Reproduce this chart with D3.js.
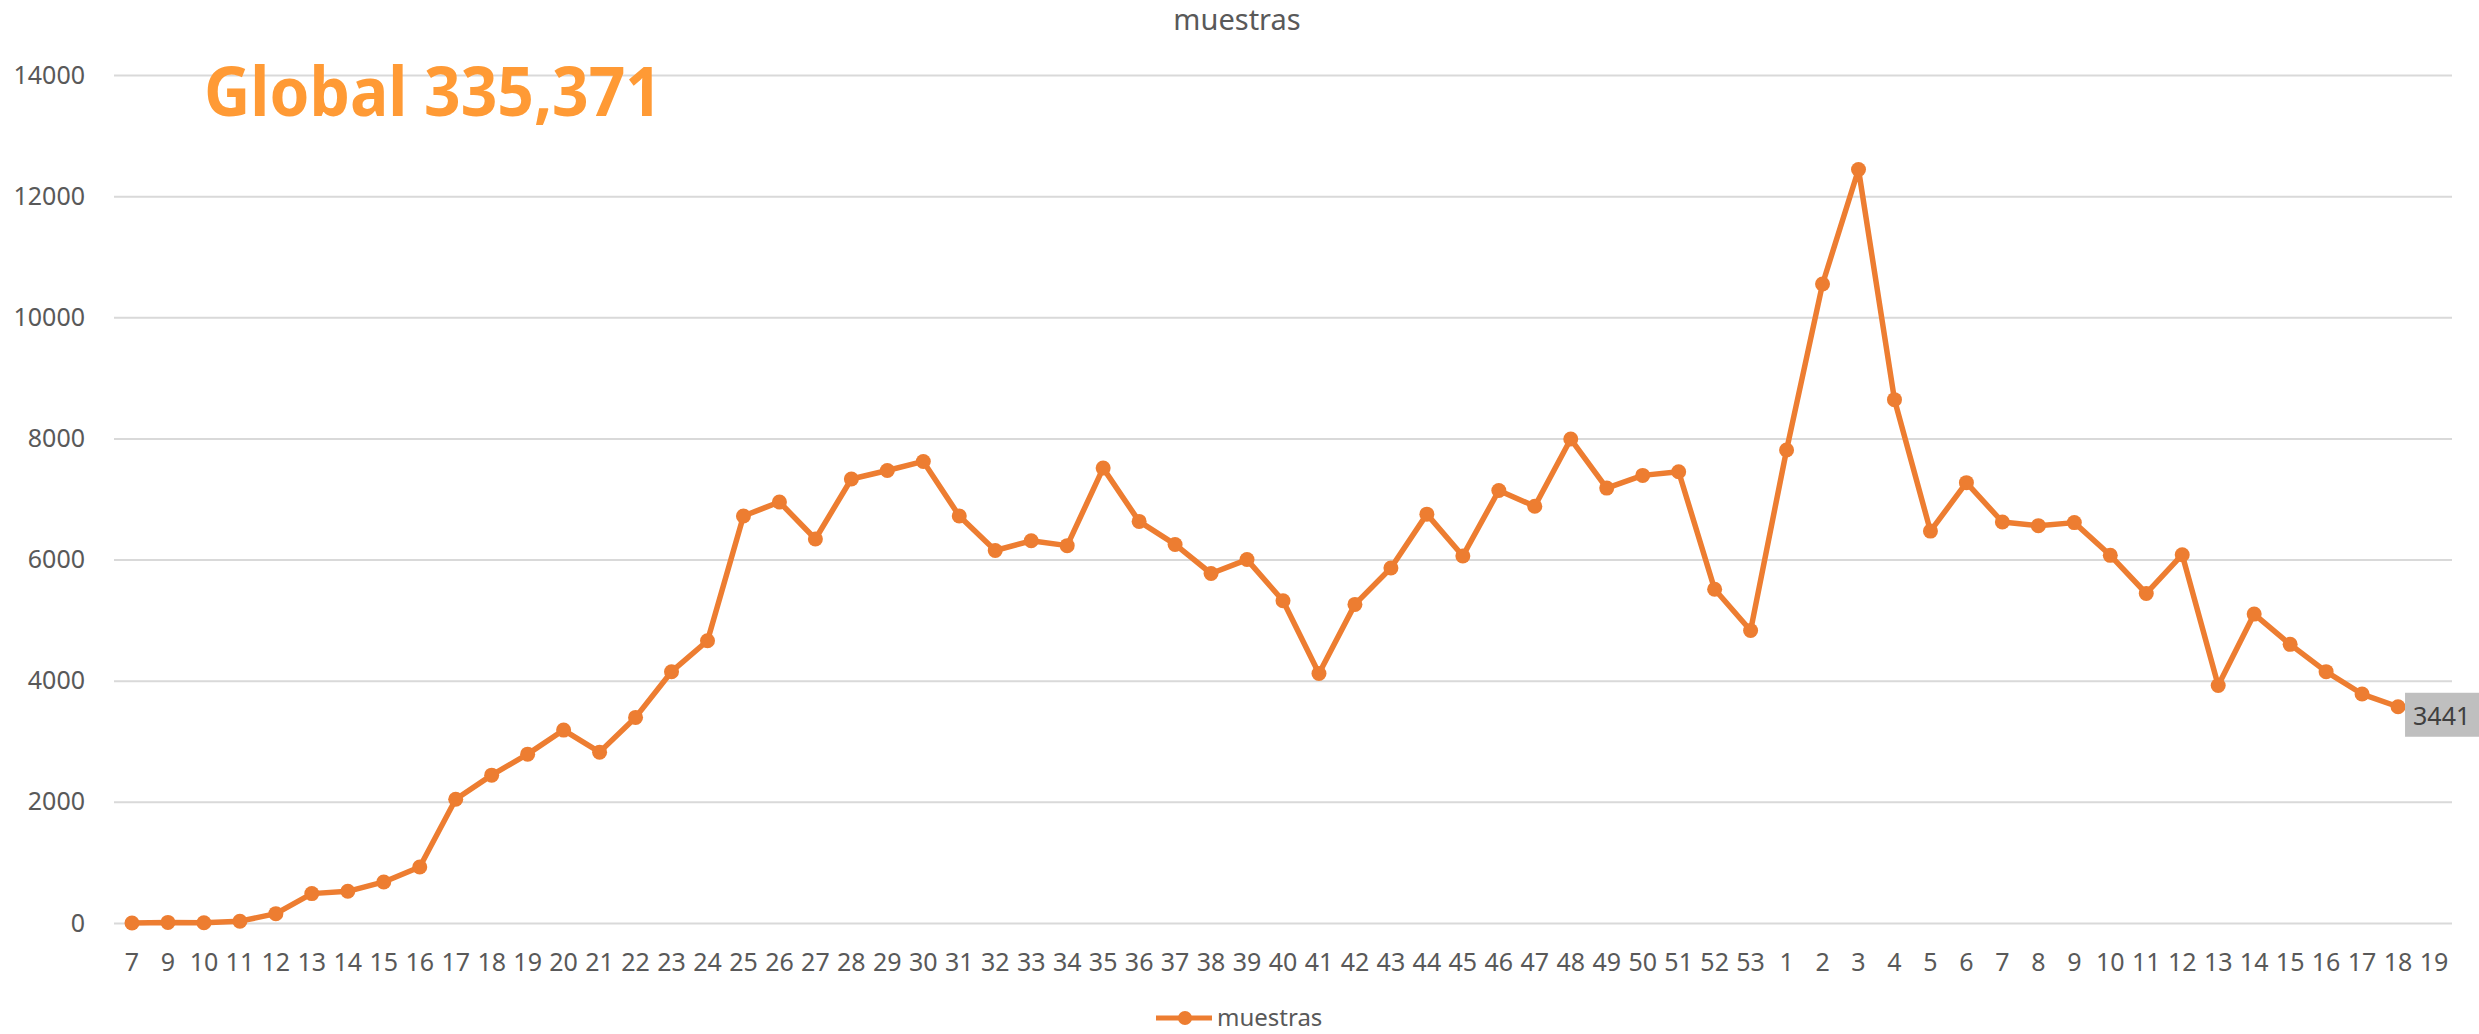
<!DOCTYPE html>
<html>
<head>
<meta charset="utf-8">
<script src="https://cdn.jsdelivr.net/npm/d3@7"></script>
<style>
  body { margin: 0; background: #fff; }
  text { font-family: "Noto Sans", "Open Sans", sans-serif; }
</style>
</head>
<body>
<div id="chart"></div>
<script>
// week numbers (2020 -> 2021)
var weeks = ["7","9","10","11","12","13","14","15","16","17","18","19","20","21","22","23","24",
  "25","26","27","28","29","30","31","32","33","34","35","36","37","38","39","40","41","42","43",
  "44","45","46","47","48","49","50","51","52","53",
  "1","2","3","4","5","6","7","8","9","10","11","12","13","14","15","16","17","18","19"];

// muestras per week (last week has no value yet)
var muestras = [0, 10, 5, 30, 154, 485, 523, 678, 925, 2044, 2441, 2788, 3185, 2821, 3394, 4149, 4660,
  6720, 6950, 6340, 7330, 7470, 7620, 6720, 6150, 6310, 6230, 7510, 6630, 6250, 5770, 6000, 5320, 4120,
  5260, 5860, 6750, 6060, 7140, 6880, 7990, 7180, 7390, 7450, 5510, 4830,
  7810, 10550, 12440, 8640, 6470, 7270, 6620, 6560, 6610, 6070, 5440, 6080, 3920, 5100, 4600, 4150, 3780, 3570, null];

var yTicks = [0, 2000, 4000, 6000, 8000, 10000, 12000, 14000];
var seriesName = "muestras";
var totalText = "Global 335,371";
var lastLabel = "3441";

var W = 2479, H = 1034;
var margin = {top: 75, right: 27, bottom: 111, left: 114},
    width = W - margin.left - margin.right,
    height = H - margin.top - margin.bottom;

var orange = "#ED7D31", grey = "#595959";

var svg = d3.select("#chart").append("svg")
    .attr("width", W)
    .attr("height", H);

var g = svg.append("g")
    .attr("transform", "translate(" + margin.left + "," + margin.top + ")");

var idx = d3.range(weeks.length);
var x = d3.scaleBand().domain(idx).range([0, width]).padding(0);
var y = d3.scaleLinear().domain([0, 14000]).range([height, 0]);
var cx = function(i) { return x(i) + x.bandwidth() / 2; };

// gridlines + y labels
var yAxis = g.append("g")
    .call(d3.axisLeft(y).tickValues(yTicks).tickSize(-width).tickPadding(29).tickFormat(d3.format("d")));
yAxis.select(".domain").remove();
yAxis.selectAll(".tick line").attr("stroke", "#D9D9D9").attr("stroke-width", 2);
yAxis.selectAll(".tick text").attr("fill", grey).style("font-size", "25px");

// x labels
var xAxis = g.append("g")
    .attr("transform", "translate(0," + height + ")")
    .call(d3.axisBottom(x).tickSize(0).tickPadding(30).tickFormat(function(i) { return weeks[i]; }));
xAxis.select(".domain").remove();
xAxis.selectAll(".tick text").attr("fill", grey).style("font-size", "25px");

// line + markers
var pts = idx.filter(function(i) { return muestras[i] != null; });
var line = d3.line()
    .x(function(i) { return cx(i); })
    .y(function(i) { return y(muestras[i]); });

g.append("path")
    .datum(pts)
    .attr("fill", "none")
    .attr("stroke", orange)
    .attr("stroke-width", 5.5)
    .attr("stroke-linejoin", "round")
    .attr("d", line);

g.selectAll(".dot")
    .data(pts)
  .enter().append("circle")
    .attr("class", "dot")
    .attr("cx", function(i) { return cx(i); })
    .attr("cy", function(i) { return y(muestras[i]); })
    .attr("r", 7.5)
    .attr("fill", orange);

// data label on last point
var last = pts[pts.length - 1];
var lx = cx(last) + 7, ly = y(muestras[last]);
g.append("rect")
    .attr("x", lx)
    .attr("y", ly - 14)
    .attr("width", 90)
    .attr("height", 44)
    .attr("fill", "#BFBFBF");
g.append("text")
    .attr("x", lx + 8)
    .attr("y", ly + 18)
    .attr("fill", "#404040")
    .style("font-size", "25px")
    .text(lastLabel);

// chart title
svg.append("text")
    .attr("x", 1237)
    .attr("y", 30)
    .attr("text-anchor", "middle")
    .attr("fill", grey)
    .style("font-size", "29px")
    .text(seriesName);

// big total annotation
svg.append("text")
    .attr("x", 204)
    .attr("y", 116)
    .attr("fill", "#FF9A35")
    .style("font-size", "68px")
    .style("font-weight", "bold")
    .attr("textLength", 458)
    .attr("lengthAdjust", "spacingAndGlyphs")
    .text(totalText);

// legend
var leg = svg.append("g").attr("transform", "translate(1156,1018)");
leg.append("line")
    .attr("x1", 0).attr("x2", 56)
    .attr("stroke", orange).attr("stroke-width", 5);
leg.append("circle").attr("cx", 29).attr("r", 7).attr("fill", orange);
leg.append("text")
    .attr("x", 61)
    .attr("y", 8)
    .attr("fill", grey)
    .style("font-size", "24px")
    .text(seriesName);
</script>
</body>
</html>
